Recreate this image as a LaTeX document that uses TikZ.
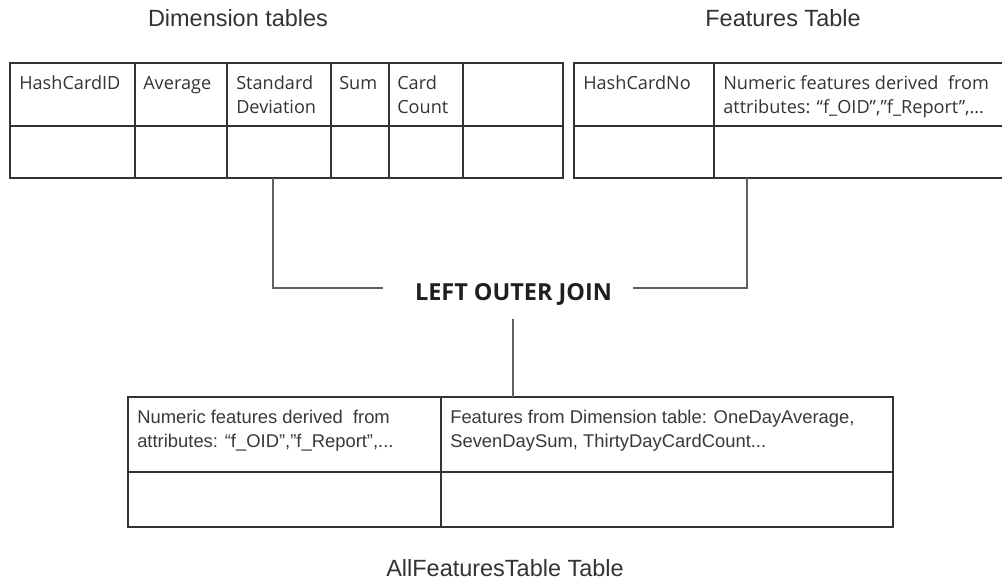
\documentclass[tikz,border=0pt]{standalone}
\usepackage{fontspec}
\setmainfont{Liberation Sans}
\newfontfamily\osans{Open Sans}
\begin{document}
\begin{tikzpicture}[x=0.75pt,y=-0.75pt,
  grid/.style={draw=black!80, line width=1.5pt},
  link/.style={draw=black!62, line width=1.4pt},
  tbl/.style={grid, anchor=north west, inner sep=0pt, outer sep=0pt},
  hdr/.style={anchor=base west, align=left, inner sep=0pt, text=black!80,
    font=\osans\fontsize{13.6}{18}\selectfont},
  cell/.style={anchor=base west, align=left, inner sep=0pt, text=black!78,
    font=\fontsize{13.8}{18}\selectfont},
  title/.style={anchor=base, inner sep=0pt, text=black!80,
    font=\fontsize{17.6}{21}\selectfont},
  joinlbl/.style={anchor=base, inner sep=0pt, text=black!88,
    font=\osans\bfseries\fontsize{17.6}{20}\selectfont}]
\useasboundingbox (0,0) rectangle (1002,579);

% table titles
\node[title] (tdim)  at (238,26)  {Dimension tables};
\node[title] (tfeat) at (783,26)  {Features Table};
\node[title] (tall)  at (505,576) {AllFeaturesTable Table};

% dimension table (multi-line cells are placed by the baseline of their last line)
\node[tbl, minimum width=553*0.75pt, minimum height=115*0.75pt] (dim) at (10,63) {};
\draw[grid] (10,126) -- (563,126);
\foreach \x in {135,227,331,389,463} \draw[grid] (\x,63) -- (\x,178);
\node[hdr] (d1) at (19,89)   {HashCardID};
\node[hdr] (d2) at (143,89)  {Average};
\node[hdr] (d3) at (236,113) {Standard\\Deviation};
\node[hdr] (d4) at (339,89)  {Sum};
\node[hdr] (d5) at (397,113) {Card\\Count};

% features table (runs off to the right)
\node[anchor=north west, inner sep=0pt, outer sep=0pt,
      minimum width=430*0.75pt, minimum height=115*0.75pt] (feat) at (574,63) {};
\draw[grid] (feat.north east) -- (feat.north west) -- (feat.south west) -- (feat.south east);
\draw[grid] (574,126) -- (1004,126);
\draw[grid] (714,63) -- (714,178);
\node[hdr] (f1) at (583,89)  {HashCardNo};
\node[hdr] (f2) at (723,113) {Numeric features derived\ \ from\\attributes: “f\_OID”,”f\_Report”,...};

% joined table
\node[tbl, minimum width=765*0.75pt, minimum height=130*0.75pt] (all) at (128,397) {};
\draw[grid] (128,472) -- (893,472);
\draw[grid] (441,397) -- (441,527);
\node[cell] (a1) at (137,447) {Numeric features derived\ \ from\\attributes: “f\_OID”,”f\_Report”,...};
\node[cell] (a2) at (450,447) {Features from Dimension table: OneDayAverage,\\SevenDaySum, ThirtyDayCardCount...};

% join label and connectors
\node[joinlbl] (join) at (513.5,300) {LEFT OUTER JOIN};
\coordinate (dimtap)  at (273,178);
\coordinate (feattap) at (747,178);
\coordinate (jl) at (383,288);
\coordinate (jr) at (633,288);
\coordinate (jb) at (513,319);
\draw[link] (dimtap) |- (jl);
\draw[link] (feattap) |- (jr);
\draw[link] (jb) -- (jb |- all.north);
\end{tikzpicture}
\end{document}
